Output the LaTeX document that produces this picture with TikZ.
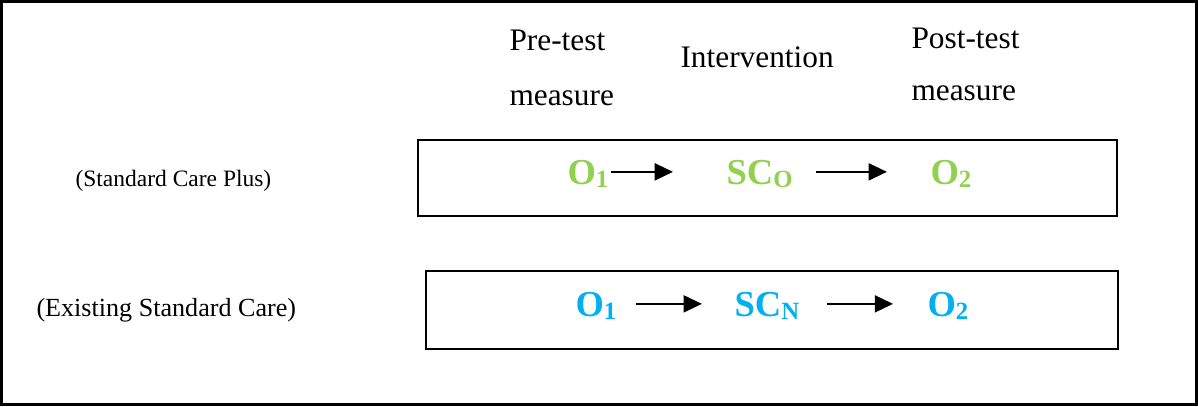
\documentclass[tikz,border=0pt]{standalone}
\usepackage{fontspec}
\setmainfont{Liberation Serif}
\usetikzlibrary{arrows.meta}
\definecolor{plusgreen}{HTML}{92D050}
\definecolor{careblue}{HTML}{00B0F0}
\newcommand{\lowsub}[1]{\raisebox{-1.2pt}{\fontsize{9.5}{10}\selectfont #1}}
\tikzset{heading/.style={anchor=base west,inner sep=0pt,font=\fontsize{12}{14}\selectfont}}
\tikzset{group/.style={anchor=base west,inner sep=0pt}}
\tikzset{obs/.style={anchor=base west,inner sep=0pt,text height=9.3pt,text depth=0pt,font=\fontsize{14}{16}\selectfont\bfseries}}
\tikzset{flow/.style={-{Triangle[length=7pt,width=6.5pt]},line width=0.8pt}}
\tikzset{panel/.style={draw,line width=0.8pt}}

\begin{document}
\begin{tikzpicture}[x=0.383pt,y=-0.383pt]
  \useasboundingbox (0,0) rectangle (1198,406);
  \draw[line width=1pt] (1.3,1.3) rectangle (1196.7,404.2);
  \node[heading] (pre1) at (509,50) {Pre-test};
  \node[heading] (pre2) at (509,105) {measure};
  \node[heading] (interv) at (680,67) {Intervention};
  \node[heading] (post1) at (911,48) {Post-test};
  \node[heading] (post2) at (911,100) {measure};
  \node[group,font=\fontsize{9}{11}\selectfont] (plus) at (75,186) {(Standard Care Plus)};
  \node[group,font=\fontsize{10}{12}\selectfont] (exist) at (36,316) {(Existing Standard Care)};
  \draw[panel] (418,140) rectangle (1117,216);
  \draw[panel] (426,271) rectangle (1118,349);
  \node[obs,plusgreen] (o1a) at (567,184) {O\lowsub{1}};
  \node[obs,plusgreen] (sco) at (726,184) {SC\lowsub{O}};
  \node[obs,plusgreen] (o2a) at (930,184) {O\lowsub{2}};
  \draw[flow,shorten <=0.8pt,shorten >=20.3pt] (o1a.east) -- (sco.west);
  \draw[flow,shorten <=8.9pt,shorten >=16.5pt] (sco.east) -- (o2a.west);
  \node[obs,careblue] (o1b) at (575,316) {O\lowsub{1}};
  \node[obs,careblue] (scn) at (734,316) {SC\lowsub{N}};
  \node[obs,careblue] (o2b) at (927,316) {O\lowsub{2}};
  \draw[flow,shorten <=7.3pt,shorten >=12.3pt] (o1b.east) -- (scn.west);
  \draw[flow,shorten <=10.4pt,shorten >=13pt] (scn.east) -- (o2b.west);
\end{tikzpicture}
\end{document}
